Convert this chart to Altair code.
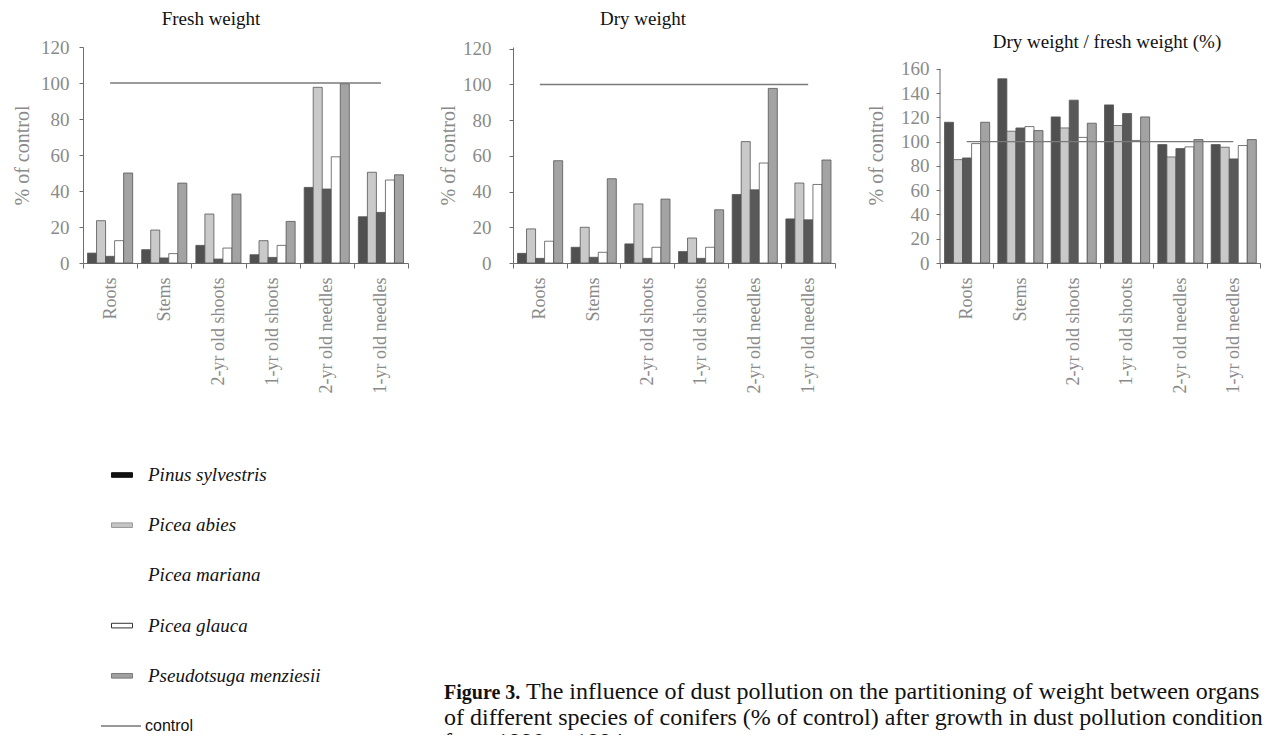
import altair as alt
import pandas as pd

organs = ["Roots", "Stems", "2-yr old shoots", "1-yr old shoots",
          "2-yr old needles", "1-yr old needles"]
species = ["Pinus sylvestris", "Picea abies", "Picea mariana",
           "Picea glauca", "Pseudotsuga menziesii"]

# Fresh weight (% of control)
fresh_pinus = [5.5, 7.4, 9.8, 4.6, 42.0, 25.7]
fresh_abies = [23.5, 18.3, 27.2, 12.4, 97.6, 50.4]
fresh_mariana = [3.7, 2.8, 2.2, 3.1, 41.1, 28.1]
fresh_glauca = [12.4, 5.2, 8.3, 9.8, 59.0, 46.1]
fresh_pseudo = [50.0, 44.4, 38.3, 23.1, 99.6, 49.0]

# Dry weight (% of control)
dry_pinus = [5.4, 8.8, 10.7, 6.4, 38.4, 24.7]
dry_abies = [19.1, 20.0, 33.1, 14.0, 68.0, 44.8]
dry_mariana = [2.6, 3.2, 2.6, 2.6, 41.0, 24.2]
dry_glauca = [12.2, 6.0, 8.8, 8.8, 56.0, 44.0]
dry_pseudo = [57.3, 47.2, 35.8, 29.8, 97.8, 57.7]

# Dry weight / fresh weight (% of control)
ratio_pinus = [116.0, 151.8, 120.4, 130.3, 97.6, 97.6]
ratio_abies = [85.2, 108.6, 111.3, 113.3, 87.4, 95.4]
ratio_mariana = [86.6, 111.3, 134.2, 123.2, 94.3, 85.8]
ratio_glauca = [98.4, 112.4, 103.5, 101.0, 95.7, 96.8]
ratio_pseudo = [116.0, 109.1, 115.2, 120.4, 101.7, 101.7]

control_values = [100, 100, 100, 100, 100, 100]

legend_items = species + ["control"]
caption_bold = "Figure 3."
caption_line1 = "The influence of dust pollution on the partitioning of weight between organs"
caption_line2 = "of different species of conifers (% of control) after growth  in dust pollution conditions"
caption_line3 = "from 1990 to 1994"

bar_colors = ["#505050", "#c9c9c9", "#595959", "#ffffff", "#a3a3a3"]
swatch_fill = ["#111111", "#c4c4c4", "#ffffff", "#ffffff", "#a0a0a0"]
swatch_stroke = ["#111111", "#9a9a9a", "#ffffff", "#333333", "#7a7a7a"]

SERIF = "Liberation Serif"
GRAY = "#8a8a8a"
AXC = "#6e6e6e"


def long_df(series):
    rows = []
    for sp, arr in zip(species, series):
        for org, v in zip(organs, arr):
            rows.append({"organ": org, "species": sp, "value": v})
    return pd.DataFrame(rows)


control_df = pd.DataFrame({"organ": organs, "value": control_values})


def panel(df, title, title_x, title_y, ymax, width, label_pad, title_pad,
          tick_max, rule_top=None):
    xenc = alt.X(
        "organ:N", sort=organs, title=None,
        scale=alt.Scale(paddingInner=0, paddingOuter=0),
        axis=alt.Axis(labelAngle=270, labelFont=SERIF, labelFontSize=18,
                      labelColor=GRAY, tickBand="extent", tickSize=5,
                      tickColor=AXC, domainColor=AXC, labelPadding=9),
    )
    yaxis = alt.Axis(values=list(range(0, tick_max + 1, 20)), labelOverlap=False,
                     grid=False, labelFont=SERIF, labelFontSize=19,
                     labelColor=GRAY, titleFont=SERIF, titleFontSize=20,
                     titleColor=GRAY, titleFontWeight="normal", tickSize=4,
                     tickColor=AXC, domainColor=AXC, labelPadding=label_pad,
                     titlePadding=title_pad, domain=rule_top is None)
    yscale = alt.Scale(domain=[0, ymax], nice=False)
    yenc = alt.Y("value:Q", title="% of control", scale=yscale, axis=yaxis)
    bars = alt.Chart(df).mark_bar(stroke="#555555", strokeWidth=0.8).encode(
        x=xenc,
        xOffset=alt.XOffset("species:N", sort=species,
                            scale=alt.Scale(paddingInner=0, paddingOuter=0.5)),
        y=yenc,
        color=alt.Color("species:N", sort=species,
                        scale=alt.Scale(domain=species, range=bar_colors),
                        legend=None),
    )
    ctrl = alt.Chart(control_df).mark_line(color="#7a7a7a", strokeWidth=1.3).encode(
        x=xenc, y=yenc
    )
    ttl = alt.Chart(pd.DataFrame({"t": [title]})).mark_text(
        font=SERIF, fontSize=19, color="#111111", align="center",
        baseline="alphabetic"
    ).encode(x=alt.value(title_x), y=alt.value(title_y), text="t:N")
    layers = [bars, ctrl, ttl]
    if rule_top is not None:
        ax = alt.Chart(pd.DataFrame({"a": [0]})).mark_rule(color=AXC).encode(
            x=alt.value(0),
            y=alt.Y(datum=0, type="quantitative", title="% of control",
                    scale=yscale, axis=yaxis),
            y2=alt.datum(rule_top),
        )
        layers.append(ax)
    return alt.layer(*layers).properties(width=width, height=216)


p1 = panel(long_df([fresh_pinus, fresh_abies, fresh_mariana, fresh_glauca, fresh_pseudo]),
           "Fresh weight", 128, -22, 120, 325, 10, 8, 120)
p2 = panel(long_df([dry_pinus, dry_abies, dry_mariana, dry_glauca, dry_pseudo]),
           "Dry weight", 130, -22, 121, 322, 18, 4, 120)
p3 = panel(long_df([ratio_pinus, ratio_abies, ratio_mariana, ratio_glauca, ratio_pseudo]),
           "Dry weight / fresh weight (%)", 167, 1, 178, 320, 7, 14, 160, rule_top=160)

top = alt.hconcat(p1, p2, p3, spacing=105, bounds="flush")

# ---- bottom: legend + caption ----
leg_df = pd.DataFrame({"item": legend_items})
yleg = alt.Y("item:N", sort=legend_items,
             scale=alt.Scale(type="point", domain=legend_items, range=[13, 264], padding=0),
             axis=None)

swatches = alt.Chart(leg_df).transform_filter(
    alt.FieldOneOfPredicate(field="item", oneOf=["Pinus sylvestris", "Picea abies",
                                                  "Picea glauca", "Pseudotsuga menziesii"])
).mark_point(shape="M-1,-0.22L1,-0.22L1,0.22L-1,0.22Z", filled=True, size=441,
             strokeWidth=1, opacity=1).encode(
    x=alt.value(39),
    y=yleg,
    fill=alt.Fill("item:N", scale=alt.Scale(domain=species, range=swatch_fill), legend=None),
    stroke=alt.Stroke("item:N", scale=alt.Scale(domain=species, range=swatch_stroke), legend=None),
)
ctrl_leg = alt.Chart(leg_df).transform_filter(alt.datum.item == "control").mark_rule(
    color="#333333", strokeWidth=1.2
).encode(x=alt.value(18), x2=alt.value(58), y=yleg)

leg_text = alt.Chart(leg_df).transform_filter(alt.datum.item != "control").mark_text(
    font=SERIF, fontStyle="italic", fontSize=19, align="left", baseline="middle",
    color="#111111", clip=True
).encode(x=alt.value(65), y=yleg, text="item:N")
ctrl_text = alt.Chart(leg_df).transform_filter(alt.datum.item == "control").mark_text(
    font="Liberation Sans", fontSize=16, align="left", baseline="middle",
    color="#111111", clip=True
).encode(x=alt.value(62), y=yleg, text="item:N")


def cap(text, x, y, size=24, bold=False):
    return alt.Chart(pd.DataFrame({"t": [text]})).mark_text(
        font=SERIF, fontSize=size, align="left", baseline="alphabetic",
        color="#111111", fontWeight="bold" if bold else "normal", clip=True
    ).encode(x=alt.value(x), y=alt.value(y), text="t:N")


bottom = alt.layer(
    swatches, ctrl_leg, leg_text, ctrl_text,
    cap(caption_bold, 361, 237, size=20, bold=True),
    cap(caption_line1, 443, 237),
    cap(caption_line2, 361, 263),
    cap(caption_line3, 361, 287),
).properties(width=1180, height=273)

chart = alt.vconcat(top, bottom, spacing=415, bounds="flush").properties(
    padding={"left": 4, "top": 2, "right": 0, "bottom": 0},
    background="white",
).configure_view(stroke=None)

chart.save("out.html", embed_options={"renderer": "svg", "actions": False})
